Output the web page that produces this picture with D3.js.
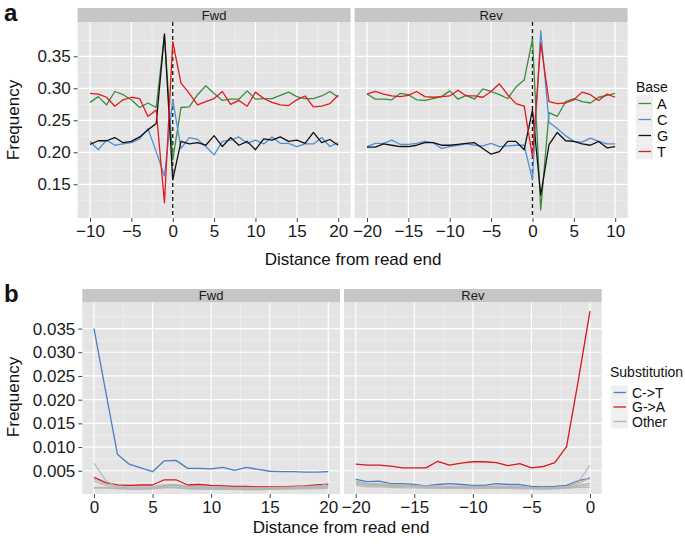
<!DOCTYPE html>
<html><head><meta charset="utf-8">
<script src="https://cdn.jsdelivr.net/npm/d3@7"></script>
<style>
body{margin:0;background:#fff;}
svg{font-family:"Liberation Sans",Arial,Helvetica,sans-serif;}
</style></head>
<body>
<svg id="chart" width="685" height="550"></svg>
<script>
// ---------------- DATA ----------------
const facets = ["Fwd", "Rev"];
const bases = ["A", "C", "G", "T"];
const subs = ["C->T", "G->A", "Other"];

// Panel a: distance from read end
const distA_fwd = [-10,-9,-8,-7,-6,-5,-4,-3,-2,-1,0,1,2,3,4,5,6,7,8,9,10,11,12,13,14,15,16,17,18,19,20];
const distA_rev = [-20,-19,-18,-17,-16,-15,-14,-13,-12,-11,-10,-9,-8,-7,-6,-5,-4,-3,-2,-1,0,1,2,3,4,5,6,7,8,9,10];

const A_fwd = [0.278,0.287,0.274,0.295,0.290,0.282,0.270,0.277,0.270,0.383,0.188,0.270,0.271,0.290,0.304,0.292,0.281,0.283,0.283,0.296,0.283,0.284,0.284,0.289,0.294,0.287,0.284,0.284,0.288,0.295,0.286];
const C_fwd = [0.217,0.204,0.219,0.211,0.213,0.215,0.221,0.237,0.201,0.163,0.282,0.206,0.223,0.220,0.209,0.196,0.217,0.219,0.224,0.214,0.219,0.213,0.224,0.214,0.214,0.209,0.213,0.213,0.223,0.209,0.215];
const G_fwd = [0.2125,0.218,0.218,0.223,0.215,0.217,0.224,0.235,0.245,0.385,0.157,0.217,0.213,0.215,0.211,0.226,0.209,0.223,0.211,0.217,0.204,0.221,0.219,0.224,0.217,0.219,0.214,0.231,0.215,0.220,0.211];
const T_fwd = [0.292,0.291,0.286,0.272,0.282,0.286,0.284,0.256,0.266,0.121,0.373,0.308,0.292,0.274,0.279,0.284,0.295,0.275,0.281,0.272,0.294,0.284,0.278,0.274,0.273,0.282,0.288,0.271,0.272,0.276,0.289];

const A_rev = [0.291,0.283,0.283,0.282,0.292,0.290,0.282,0.281,0.284,0.287,0.296,0.283,0.289,0.283,0.299,0.295,0.290,0.284,0.302,0.313,0.377,0.110,0.262,0.256,0.279,0.284,0.279,0.277,0.286,0.289,0.292];
const C_rev = [0.209,0.214,0.214,0.219,0.2125,0.2125,0.214,0.217,0.215,0.206,0.209,0.211,0.213,0.211,0.210,0.214,0.209,0.210,0.211,0.211,0.157,0.390,0.247,0.237,0.226,0.217,0.216,0.222,0.217,0.213,0.213];
const G_rev = [0.208,0.208,0.213,0.211,0.209,0.209,0.211,0.215,0.215,0.211,0.211,0.2125,0.214,0.215,0.206,0.197,0.201,0.217,0.217,0.204,0.266,0.133,0.212,0.231,0.218,0.217,0.213,0.211,0.217,0.207,0.209];
const T_rev = [0.291,0.295,0.291,0.288,0.287,0.289,0.295,0.287,0.286,0.287,0.288,0.297,0.288,0.288,0.286,0.295,0.307,0.290,0.276,0.272,0.193,0.371,0.279,0.276,0.277,0.282,0.294,0.290,0.281,0.291,0.286];

// Panel b
const distB_fwd = [0,1,2,3,4,5,6,7,8,9,10,11,12,13,14,15,16,17,18,19,20];
const distB_rev = [-20,-19,-18,-17,-16,-15,-14,-13,-12,-11,-10,-9,-8,-7,-6,-5,-4,-3,-2,-1,0];

const CT_fwd = [0.0350,0.0217,0.0085,0.0064,0.0056,0.0048,0.0071,0.0072,0.0055,0.0055,0.0054,0.0057,0.0051,0.0057,0.0053,0.0049,0.0048,0.0048,0.0047,0.0047,0.0048];
const GA_fwd = [0.0036,0.0025,0.0020,0.0019,0.0020,0.0020,0.0031,0.0031,0.0020,0.0021,0.0019,0.0018,0.0017,0.0017,0.0016,0.0016,0.0016,0.0017,0.0018,0.0020,0.0022];
const Other1_fwd = [0.0066,0.0029,0.0016,0.0014,0.0013,0.0013,0.0015,0.0015,0.0013,0.0013,0.0012,0.0012,0.0012,0.0012,0.0012,0.0012,0.0013,0.0014,0.0015,0.0016,0.0024];
const Other2_fwd = [0.0033,0.0022,0.0018,0.0016,0.0016,0.0016,0.0020,0.0021,0.0017,0.0016,0.0016,0.0015,0.0015,0.0015,0.0014,0.0014,0.0015,0.0016,0.0017,0.0018,0.0019];
const Other3_fwd = [0.0015,0.0015,0.0013,0.0012,0.0012,0.0013,0.0017,0.0018,0.0014,0.0013,0.0013,0.0013,0.0012,0.0012,0.0012,0.0012,0.0013,0.0013,0.0013,0.0014,0.0015];
const Other4_fwd = [0.0013,0.0014,0.0012,0.0011,0.0011,0.0012,0.0014,0.0014,0.0012,0.0011,0.0011,0.0011,0.0011,0.0010,0.0010,0.0011,0.0011,0.0012,0.0012,0.0012,0.0013];
const Other5_fwd = [0.0028,0.0019,0.0015,0.0014,0.0014,0.0015,0.0019,0.0020,0.0016,0.0015,0.0015,0.0014,0.0014,0.0014,0.0013,0.0013,0.0014,0.0014,0.0015,0.0016,0.0017];

const CT_rev = [0.0032,0.0027,0.0028,0.0023,0.0023,0.0021,0.0018,0.0021,0.0023,0.0021,0.0019,0.0019,0.0023,0.0021,0.0021,0.0017,0.0016,0.0017,0.0019,0.0029,0.0034];
const GA_rev = [0.0064,0.0062,0.0062,0.0060,0.0056,0.0056,0.0056,0.0070,0.0062,0.0066,0.0069,0.0069,0.0067,0.0061,0.0065,0.0056,0.0059,0.0067,0.0101,0.0240,0.0387];
const Other1_rev = [0.0026,0.0022,0.0021,0.0019,0.0018,0.0018,0.0016,0.0016,0.0016,0.0015,0.0015,0.0015,0.0016,0.0015,0.0015,0.0014,0.0013,0.0014,0.0016,0.0026,0.0062];
const Other2_rev = [0.0028,0.0024,0.0023,0.0021,0.0020,0.0019,0.0018,0.0018,0.0017,0.0017,0.0017,0.0017,0.0018,0.0017,0.0017,0.0015,0.0014,0.0015,0.0016,0.0023,0.0036];
const Other3_rev = [0.0022,0.0019,0.0018,0.0017,0.0016,0.0016,0.0015,0.0015,0.0014,0.0014,0.0014,0.0014,0.0015,0.0014,0.0014,0.0013,0.0012,0.0013,0.0014,0.0017,0.0020];
const Other4_rev = [0.0019,0.0016,0.0016,0.0015,0.0014,0.0014,0.0013,0.0013,0.0013,0.0013,0.0012,0.0013,0.0013,0.0013,0.0012,0.0012,0.0011,0.0012,0.0013,0.0015,0.0015];
const Other5_rev = [0.0024,0.0020,0.0020,0.0018,0.0017,0.0017,0.0016,0.0015,0.0015,0.0015,0.0015,0.0016,0.0016,0.0015,0.0015,0.0014,0.0013,0.0014,0.0015,0.0019,0.0024];

// Tick values / labels
const ticksA_fwd = [-10,-5,0,5,10,15,20];
const ticksA_rev = [-20,-15,-10,-5,0,5,10];
const ticksA_y = [0.15,0.20,0.25,0.30,0.35];
const ticksB_fwd = [0,5,10,15,20];
const ticksB_rev = [-20,-15,-10,-5,0];
const ticksB_y = [0.005,0.010,0.015,0.020,0.025,0.030,0.035];

const baseColors = {A:"#3d8b3d", C:"#4f8fd6", G:"#111111", T:"#e3191c"};
const subColors = {"C->T":"#4a7fc1", "G->A":"#d7191c", "Other":"#b4b4b4"};

// ---------------- DRAW ----------------
const svg = d3.select("#chart");
const PANEL_BG = "#e4e4e4", STRIP_BG = "#c6c6c6", MINOR = "#f1f1f1";
const minus = s => String(s).replace("-", "\u2212");

function facet(g, cfg) {
  const x = d3.scaleLinear().domain(cfg.xdom).range([cfg.x0, cfg.x1]);
  const y = d3.scaleLinear().domain(cfg.ydom).range([cfg.y1, cfg.y0]);
  // strip
  g.append("rect").attr("x", cfg.x0).attr("y", cfg.sy).attr("width", cfg.x1 - cfg.x0)
    .attr("height", cfg.y0 - cfg.sy).attr("fill", STRIP_BG);
  g.append("text").attr("x", (cfg.x0 + cfg.x1) / 2).attr("y", cfg.sy + (cfg.y0 - cfg.sy) / 2 + 4.5)
    .attr("text-anchor", "middle").attr("font-size", 13).attr("fill", "#1a1a1a").text(cfg.title);
  // panel
  g.append("rect").attr("x", cfg.x0).attr("y", cfg.y0).attr("width", cfg.x1 - cfg.x0)
    .attr("height", cfg.y1 - cfg.y0).attr("fill", PANEL_BG);
  // minor grid
  const xminor = cfg.xticks.slice(0, -1).map((t, i) => (t + cfg.xticks[i + 1]) / 2)
    .concat([cfg.xticks[0] - (cfg.xticks[1] - cfg.xticks[0]) / 2, cfg.xticks[cfg.xticks.length - 1] + (cfg.xticks[1] - cfg.xticks[0]) / 2])
    .filter(v => v >= cfg.xdom[0] && v <= cfg.xdom[1]);
  const step = cfg.yticks[1] - cfg.yticks[0];
  const yminor = cfg.yticks.map(t => t - step / 2).concat([cfg.yticks[cfg.yticks.length - 1] + step / 2])
    .filter(v => v >= cfg.ydom[0] && v <= cfg.ydom[1]);
  g.selectAll(null).data(xminor).enter().append("line")
    .attr("x1", d => x(d)).attr("x2", d => x(d)).attr("y1", cfg.y0).attr("y2", cfg.y1)
    .attr("stroke", MINOR).attr("stroke-width", 0.6);
  g.selectAll(null).data(yminor).enter().append("line")
    .attr("y1", d => y(d)).attr("y2", d => y(d)).attr("x1", cfg.x0).attr("x2", cfg.x1)
    .attr("stroke", MINOR).attr("stroke-width", 0.6);
  // major grid
  g.selectAll(null).data(cfg.xticks).enter().append("line")
    .attr("x1", d => x(d)).attr("x2", d => x(d)).attr("y1", cfg.y0).attr("y2", cfg.y1)
    .attr("stroke", "#fff").attr("stroke-width", 1.2);
  g.selectAll(null).data(cfg.yticks).enter().append("line")
    .attr("y1", d => y(d)).attr("y2", d => y(d)).attr("x1", cfg.x0).attr("x2", cfg.x1)
    .attr("stroke", "#fff").attr("stroke-width", 1.2);
  // x axis
  const xa = g.append("g").attr("transform", `translate(0,${cfg.y1})`)
    .call(d3.axisBottom(x).tickValues(cfg.xticks).tickSize(4).tickPadding(3).tickFormat(d => minus(d)));
  xa.select(".domain").remove();
  xa.selectAll("line").attr("stroke", "#444");
  xa.selectAll("text").attr("font-size", 17).attr("fill", "#1a1a1a").attr("font-family", null);
  if (cfg.yaxis) {
    const ya = g.append("g").attr("transform", `translate(${cfg.x0},0)`)
      .call(d3.axisLeft(y).tickValues(cfg.yticks).tickSize(4).tickPadding(3).tickFormat(cfg.yfmt));
    ya.select(".domain").remove();
    ya.selectAll("line").attr("stroke", "#444");
    ya.selectAll("text").attr("font-size", 17).attr("fill", "#1a1a1a").attr("font-family", null);
  }
  // vertical dashed line
  if (cfg.vline !== undefined) {
    g.append("line").attr("x1", x(cfg.vline)).attr("x2", x(cfg.vline)).attr("y1", cfg.y0).attr("y2", cfg.y1)
      .attr("stroke", "#111").attr("stroke-width", 1.3).attr("stroke-dasharray", "4,3");
  }
  // lines
  const clip = g.append("g");
  cfg.series.forEach(s => {
    const pts = cfg.dist.map((d, i) => [d, s.values[i]]);
    clip.append("path").datum(pts)
      .attr("d", d3.line().x(p => x(p[0])).y(p => y(p[1])))
      .attr("fill", "none").attr("stroke", s.color).attr("stroke-width", s.width || 1.3)
      .attr("stroke-opacity", s.opacity || 1).attr("stroke-linejoin", "round");
  });
  return {x, y};
}

// Panel a
const gA = svg.append("g");
const aYdom = [0.0973, 0.4036];
const aSeriesFwd = [
  {values: A_fwd, color: baseColors.A}, {values: C_fwd, color: baseColors.C},
  {values: G_fwd, color: baseColors.G}, {values: T_fwd, color: baseColors.T}];
const aSeriesRev = [
  {values: A_rev, color: baseColors.A}, {values: C_rev, color: baseColors.C},
  {values: G_rev, color: baseColors.G}, {values: T_rev, color: baseColors.T}];
facet(gA, {title: facets[0], x0: 77.6, x1: 350.6, sy: 8, y0: 22, y1: 218, xdom: [-11.5, 21.5], ydom: aYdom,
  xticks: ticksA_fwd, yticks: ticksA_y, yaxis: true, yfmt: d3.format(".2f"), vline: 0, dist: distA_fwd, series: aSeriesFwd});
facet(gA, {title: facets[1], x0: 354.6, x1: 627.6, sy: 8, y0: 22, y1: 218, xdom: [-21.5, 11.5], ydom: aYdom,
  xticks: ticksA_rev, yticks: ticksA_y, yaxis: false, vline: 0, dist: distA_rev, series: aSeriesRev});

// Panel b
const gB = svg.append("g");
const bYdom = [0.0001, 0.0405];
const otherW = 1.2, otherO = 0.85;
const bSeriesFwd = [
  {values: CT_fwd, color: subColors["C->T"]}, {values: GA_fwd, color: subColors["G->A"]},
  {values: Other4_fwd, color: subColors.Other, opacity: otherO}, {values: Other3_fwd, color: subColors.Other, opacity: otherO},
  {values: Other5_fwd, color: subColors.Other, opacity: otherO}, {values: Other2_fwd, color: subColors.Other, opacity: otherO},
  {values: Other1_fwd, color: subColors.Other, opacity: otherO}];
const bSeriesRev = [
  {values: CT_rev, color: subColors["C->T"]}, {values: GA_rev, color: subColors["G->A"]},
  {values: Other4_rev, color: subColors.Other, opacity: otherO}, {values: Other3_rev, color: subColors.Other, opacity: otherO},
  {values: Other5_rev, color: subColors.Other, opacity: otherO}, {values: Other2_rev, color: subColors.Other, opacity: otherO},
  {values: Other1_rev, color: subColors.Other, opacity: otherO}];
facet(gB, {title: facets[0], x0: 82.3, x1: 340, sy: 289, y0: 302.5, y1: 494, xdom: [-1, 21], ydom: bYdom,
  xticks: ticksB_fwd, yticks: ticksB_y, yaxis: true, yfmt: d3.format(".3f"), dist: distB_fwd, series: bSeriesFwd});
facet(gB, {title: facets[1], x0: 344, x1: 601.7, sy: 289, y0: 302.5, y1: 494, xdom: [-21, 1], ydom: bYdom,
  xticks: ticksB_rev, yticks: ticksB_y, yaxis: false, dist: distB_rev, series: bSeriesRev});

// Titles
function txt(x, y, s, size, opts = {}) {
  const t = svg.append("text").attr("x", x).attr("y", y).attr("font-size", size).attr("fill", opts.fill || "#111")
    .attr("text-anchor", opts.anchor || "start").text(s);
  if (opts.bold) t.attr("font-weight", "bold");
  if (opts.rotate) t.attr("transform", `rotate(-90,${x},${y})`);
  return t;
}
txt(4, 21, "a", 24, {bold: true});
txt(4, 302, "b", 24, {bold: true});
txt(353, 265, "Distance from read end", 17, {anchor: "middle"});
txt(341, 533, "Distance from read end", 17, {anchor: "middle"});
txt(19, 120, "Frequency", 17, {anchor: "middle", rotate: true});
txt(19, 397, "Frequency", 17, {anchor: "middle", rotate: true});

// Legend a
txt(636, 92, "Base", 14);
bases.forEach((b, i) => {
  const cy = 103.5 + i * 16;
  svg.append("rect").attr("x", 636).attr("y", cy - 8).attr("width", 17).attr("height", 16).attr("fill", "#efefef");
  svg.append("line").attr("x1", 638.5).attr("x2", 651).attr("y1", cy).attr("y2", cy)
    .attr("stroke", baseColors[b]).attr("stroke-width", 1.3);
  txt(657, cy + 5, b, 14.5);
});
// Legend b
txt(610, 377, "Substitution", 14);
subs.forEach((s, i) => {
  const cy = 392.5 + i * 14.5;
  svg.append("rect").attr("x", 611).attr("y", cy - 7).attr("width", 17).attr("height", 14).attr("fill", "#efefef");
  svg.append("line").attr("x1", 613.5).attr("x2", 626).attr("y1", cy).attr("y2", cy)
    .attr("stroke", subColors[s]).attr("stroke-width", 1.3);
  txt(632, cy + 5, s, 14);
});
</script>
</body></html>
